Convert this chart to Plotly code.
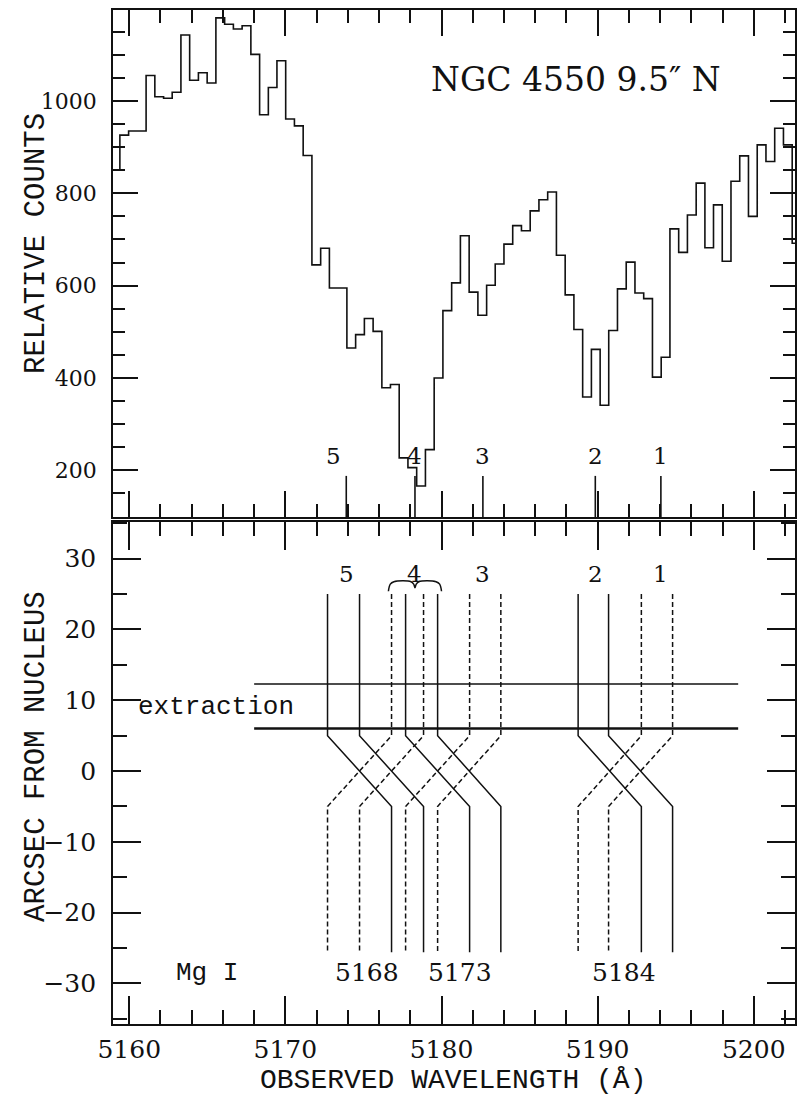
import plotly.graph_objects as go

# ---------------- data ----------------
# histogram (top panel): bin edges in Angstrom and relative counts per bin
bin_edges = [5158.84, 5159.40, 5159.96, 5160.52, 5161.08, 5161.64, 5162.20, 5162.75,
             5163.31, 5163.87, 5164.43, 5164.99, 5165.55, 5166.11, 5166.67, 5167.23,
             5167.79, 5168.35, 5168.91, 5169.46, 5170.02, 5170.58, 5171.14, 5171.70,
             5172.26, 5172.82, 5173.38, 5173.94, 5174.50, 5175.06, 5175.62, 5176.18,
             5176.73, 5177.29, 5177.85, 5178.41, 5178.97, 5179.53, 5180.09, 5180.65,
             5181.21, 5181.77, 5182.33, 5182.89, 5183.44, 5184.00, 5184.56, 5185.12,
             5185.68, 5186.24, 5186.80, 5187.36, 5187.92, 5188.48, 5189.04, 5189.60,
             5190.16, 5190.71, 5191.27, 5191.83, 5192.39, 5192.95, 5193.51, 5194.07,
             5194.63, 5195.19, 5195.75, 5196.31, 5196.87, 5197.42, 5197.98, 5198.54,
             5199.10, 5199.66, 5200.22, 5200.78, 5201.34, 5201.90, 5202.46, 5203.02]
counts = [851, 926, 935, 935, 1055, 1009, 1006, 1019, 1143, 1045, 1061, 1039,
          1180, 1166, 1156, 1163, 1101, 970, 1029, 1087, 961, 946, 882, 645,
          681, 595, 595, 465, 494, 529, 501, 379, 386, 227, 206, 166,
          245, 400, 546, 606, 708, 586, 536, 601, 647, 690, 730, 719,
          762, 786, 803, 666, 580, 505, 359, 462, 341, 503, 593, 651,
          584, 572, 402, 445, 723, 672, 753, 822, 682, 775, 653, 826,
          881, 750, 905, 869, 941, 905, 692]

# absorption features marked in both panels
feature_names = ["5", "4", "3", "2", "1"]
feature_wl = [5173.9, 5178.3, 5182.65, 5189.85, 5194.05]
feature_mark_top = 188      # counts
feature_label_top = 231     # counts
feature_label_bottom = 27.8 # arcsec

# line tracks (bottom panel): blue-side and red-side wavelengths of each component
comp_blue = [5172.70, 5174.75, 5177.70, 5179.75, 5188.75, 5190.70]
comp_red = [5176.80, 5178.85, 5181.80, 5183.80, 5192.80, 5194.80]
track_y = [25.0, 5.0, -5.0, -25.6]   # arcsec: top, bend, bend, bottom

# extraction window
extraction_y = [6.0, 12.3]
extraction_x = [5168.0, 5199.0]

# Mg I rest wavelength labels
mg_labels = ["5168", "5173", "5184"]
mg_label_wl = [5175.2, 5181.2, 5191.7]
mg_label_y = -28.5

# brace over feature 4
brace_x = [5176.6, 5180.0]
brace_y = 26.2

INK = "#111111"
SERIF = "DejaVu Serif"
MONO = "Liberation Mono"

fig = go.Figure()

# ---------------- top panel ----------------
fig.add_trace(go.Scatter(
    x=bin_edges, y=counts + [counts[-1]], mode="lines",
    line=dict(shape="hv", color=INK, width=1.6),
    xaxis="x2", yaxis="y2", hoverinfo="skip"))

mx, my = [], []
for w in feature_wl:
    mx += [w, w, None]
    my += [99, feature_mark_top, None]
fig.add_trace(go.Scatter(x=mx, y=my, mode="lines", line=dict(color=INK, width=1.6),
                         xaxis="x2", yaxis="y2", hoverinfo="skip"))

# ---------------- bottom panel ----------------
sx, sy, dx, dy = [], [], [], []
for b, r in zip(comp_blue, comp_red):
    sx += [b, b, r, r, None]
    sy += track_y + [None]
    dx += [r, r, b, b, None]
    dy += track_y + [None]
fig.add_trace(go.Scatter(x=sx, y=sy, mode="lines", line=dict(color=INK, width=1.5),
                         xaxis="x", yaxis="y", hoverinfo="skip"))
fig.add_trace(go.Scatter(x=dx, y=dy, mode="lines",
                         line=dict(color=INK, width=1.5, dash="5px,3px"),
                         xaxis="x", yaxis="y", hoverinfo="skip"))

for yv, wdt in zip(extraction_y, [2.6, 1.6]):
    fig.add_trace(go.Scatter(x=extraction_x, y=[yv, yv], mode="lines",
                             line=dict(color=INK, width=wdt),
                             xaxis="x", yaxis="y", hoverinfo="skip"))

# brace
bx0, bx1 = brace_x
bm = (bx0 + bx1) / 2
bxs = [bx0, bx0 + 0.12, bx0 + 0.35, bm - 0.25, bm - 0.08, bm, bm + 0.08, bm + 0.25, bx1 - 0.35, bx1 - 0.12, bx1]
bys = [brace_y - 0.8, brace_y + 0.2, brace_y + 0.55, brace_y + 0.55, brace_y + 0.2, brace_y - 0.3,
       brace_y + 0.2, brace_y + 0.55, brace_y + 0.55, brace_y + 0.2, brace_y - 0.8]
fig.add_trace(go.Scatter(x=bxs, y=bys, mode="lines", line=dict(color=INK, width=1.5, shape="spline"),
                         xaxis="x", yaxis="y", hoverinfo="skip"))

# ---------------- annotations ----------------
ann = []
for name, w in zip(feature_names, feature_wl):
    ann.append(dict(x=w, y=feature_label_top, xref="x2", yref="y2", text=name, showarrow=False,
                    xshift=-13 if name == "5" else 0,
                    font=dict(family=SERIF, size=23, color=INK)))
    ann.append(dict(x=w, y=feature_label_bottom, xref="x", yref="y", text=name, showarrow=False,
                    font=dict(family=SERIF, size=23, color=INK)))

for lab, w in zip(mg_labels, mg_label_wl):
    ann.append(dict(x=w, y=mg_label_y, xref="x", yref="y", text=lab, showarrow=False,
                    font=dict(family=SERIF, size=25, color=INK)))
ann.append(dict(x=5165.0, y=mg_label_y, xref="x", yref="y", text="Mg I", showarrow=False,
                font=dict(family=MONO, size=26, color=INK)))
ann.append(dict(x=5160.45, y=9.0, xref="x", yref="y", text="extraction", showarrow=False,
                xanchor="left", font=dict(family=MONO, size=26, color=INK)))
ann.append(dict(x=5188.6, y=1047, xref="x2", yref="y2", text="NGC 4550 9.5″ N", showarrow=False,
                font=dict(family=SERIF, size=33, color=INK)))

# axis titles
ann.append(dict(x=-0.1133, y=0.770, xref="paper", yref="paper", text="RELATIVE COUNTS",
                xanchor="center", yanchor="middle",
                textangle=-90, showarrow=False, font=dict(family=MONO, size=29, color=INK)))
ann.append(dict(x=-0.1119, y=0.2641, xref="paper", yref="paper", text="ARCSEC FROM NUCLEUS",
                xanchor="center", yanchor="middle",
                textangle=-90, showarrow=False, font=dict(family=MONO, size=29, color=INK)))
ann.append(dict(x=0.4985, y=-0.0551, xref="paper", yref="paper", text="OBSERVED WAVELENGTH (Å)",
                xanchor="center", yanchor="middle", height=30, valign="middle",
                showarrow=False, font=dict(family=MONO, size=28, color=INK)))

# ---------------- axes ----------------
def xax(major_len, minor_len):
    return dict(range=[5158.96, 5202.64], tick0=5160, dtick=10, ticks="inside",
                ticklen=major_len, tickwidth=1.5, tickcolor=INK, showline=True, linecolor=INK,
                linewidth=1.6, mirror="allticks", showgrid=False, zeroline=False,
                minor=dict(tick0=5160, dtick=2, ticks="inside", ticklen=minor_len,
                           tickwidth=1.5, tickcolor=INK, showgrid=False))

x_bottom = xax(28, 14)
x_bottom.update(anchor="y", tickfont=dict(family=SERIF, size=25, color=INK), ticklabelstandoff=2)
x_top = xax(26, 13)
x_top.update(anchor="y2", matches="x", showticklabels=False)

y_bottom = dict(domain=[0, 0.4951], range=[-35.74, 35.19], tick0=0, dtick=10, ticks="inside",
                ticklen=28, tickwidth=1.5, tickcolor=INK, showline=True, linecolor=INK, linewidth=1.6,
                mirror="allticks", showgrid=False, zeroline=False, anchor="x",
                tickfont=dict(family=SERIF, size=25, color=INK), ticklabelstandoff=10,
                minor=dict(tick0=0, dtick=5, ticks="inside", ticklen=14, tickwidth=1.5,
                           tickcolor=INK, showgrid=False))
y_top = dict(domain=[0.5, 1], range=[99, 1197], tick0=0, dtick=200, ticks="inside",
             ticklen=25, tickwidth=1.5, tickcolor=INK, showline=True, linecolor=INK, linewidth=1.6,
             mirror="allticks", showgrid=False, zeroline=False, anchor="x2",
             tickfont=dict(family=SERIF, size=22, color=INK), ticklabelstandoff=10,
             minor=dict(tick0=0, dtick=50, ticks="inside", ticklen=12, tickwidth=1.5,
                        tickcolor=INK, showgrid=False))

fig.update_layout(width=805, height=1096, margin=dict(l=113, r=10, t=8, b=72),
                  paper_bgcolor="white", plot_bgcolor="white", showlegend=False,
                  xaxis=x_bottom, xaxis2=x_top, yaxis=y_bottom, yaxis2=y_top,
                  annotations=ann)

fig.write_html("out.html")
